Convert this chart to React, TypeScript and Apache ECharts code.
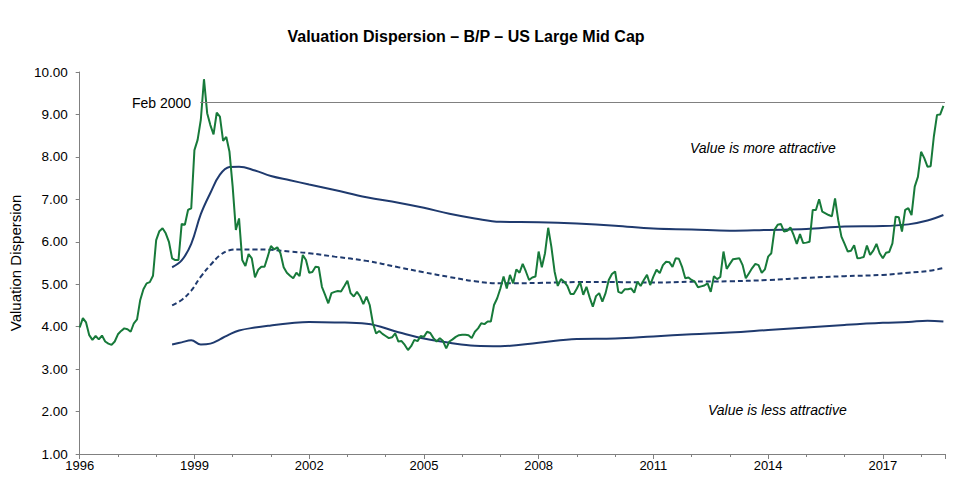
import React, { useEffect, useRef } from "react";
import * as echarts from "echarts";

// Months since Jan 1996 (index 0 = Jan 1996), monthly B/P valuation dispersion
const greenValues: number[] = [
  3.98, 4.2, 4.1, 3.8, 3.69, 3.78, 3.7, 3.79, 3.65, 3.6, 3.57, 3.65,
  3.82, 3.9, 3.96, 3.94, 3.88, 4.08, 4.17, 4.63, 4.88, 5.02, 5.05, 5.2,
  6.04, 6.25, 6.32, 6.2, 6.0, 5.61, 5.57, 5.57, 6.42, 6.4, 6.75, 6.79,
  8.16, 8.4, 8.87, 9.83, 9.03, 8.75, 8.53, 9.04, 8.95, 8.38, 8.47, 8.12,
  7.3, 6.28, 6.55, 5.57, 5.43, 5.71, 5.61, 5.16, 5.34, 5.41, 5.41, 5.65,
  5.9, 5.82, 5.87, 5.73, 5.4, 5.27, 5.2, 5.14, 5.27, 5.19, 5.69, 5.57,
  5.27, 5.29, 5.41, 5.4, 4.94, 4.75, 4.55, 4.79, 4.82, 4.84, 4.83, 4.95,
  5.08, 4.79, 4.71, 4.82, 4.71, 4.53, 4.71, 4.51, 4.08, 3.84, 3.9, 3.83,
  3.78, 3.73, 3.75, 3.84, 3.65, 3.66, 3.57, 3.45, 3.54, 3.69, 3.66, 3.78,
  3.76, 3.88, 3.85, 3.73, 3.65, 3.73, 3.66, 3.49, 3.65, 3.7, 3.76, 3.8,
  3.81, 3.81, 3.8, 3.73, 3.88, 3.96, 4.08, 4.06, 4.12, 4.12, 4.51, 4.67,
  4.9, 5.18, 4.9, 5.22, 5.02, 5.35, 5.27, 5.48, 5.3, 5.1, 5.16, 5.18,
  5.77, 5.4, 5.73, 6.33, 5.88, 5.3, 4.96, 5.12, 5.06, 4.96, 4.77, 4.77,
  4.9, 5.05, 4.75, 4.94, 4.69, 4.47, 4.72, 4.79, 4.59, 4.79, 5.1, 5.24,
  5.3, 4.82, 4.79, 4.88, 4.88, 4.9, 4.8, 5.06, 4.96, 5.1, 5.22, 4.98,
  5.18, 5.34, 5.26, 5.45, 5.53, 5.52, 5.41, 5.61, 5.6, 5.41, 5.14, 5.16,
  5.1, 5.06, 4.93, 4.95, 4.97, 5.02, 4.82, 5.19, 5.12, 5.17, 5.77, 5.36,
  5.48, 5.59, 5.6, 5.61, 5.45, 5.14, 5.26, 5.38, 5.48, 5.45, 5.27, 5.35,
  5.65, 5.73, 6.28, 6.4, 6.42, 6.24, 6.26, 6.34, 6.16, 5.95, 6.18, 5.97,
  5.98, 6.0, 6.75, 6.75, 7.0, 6.71, 6.67, 6.63, 6.6, 7.02, 6.51, 6.12,
  5.95, 5.77, 5.79, 5.92, 5.61, 5.62, 5.64, 5.91, 5.69, 5.79, 5.95, 5.73,
  5.61, 5.74, 5.76, 5.96, 6.59, 6.58, 6.24, 6.75, 6.79, 6.63, 7.3, 7.53,
  8.12, 7.97, 7.77, 7.78, 8.48, 8.99, 9.0, 9.2,
];

// Band series (months since Jan 1996)
const bandMonths: number[] = [
  29, 32, 35, 38, 41, 44, 47, 50, 55, 60, 66, 72, 80, 90, 100, 108, 116, 124,
  132, 144, 156, 168, 180, 192, 204, 216, 228, 240, 252, 260, 266, 271,
];
const upperBand: number[] = [
  5.4, 5.56, 5.95, 6.65, 7.15, 7.58, 7.76, 7.77, 7.68, 7.55, 7.45, 7.35, 7.22,
  7.05, 6.92, 6.8, 6.66, 6.55, 6.47, 6.46, 6.43, 6.38, 6.31, 6.29, 6.26, 6.28,
  6.3, 6.36, 6.37, 6.41, 6.5, 6.63,
];
const middleBand: number[] = [
  4.5, 4.63, 4.85, 5.18, 5.45, 5.68, 5.8, 5.82, 5.82, 5.81, 5.77, 5.73, 5.65,
  5.55, 5.4, 5.28, 5.17, 5.07, 5.02, 5.03, 5.05, 5.05, 5.04, 5.06, 5.07, 5.1,
  5.15, 5.19, 5.22, 5.27, 5.31, 5.38,
];
const lowerBand: number[] = [
  3.58, 3.63, 3.68, 3.58, 3.6, 3.7, 3.82, 3.91, 3.98, 4.03, 4.08, 4.11, 4.1,
  4.07, 3.87, 3.72, 3.62, 3.55, 3.54, 3.62, 3.71, 3.72, 3.77, 3.82, 3.86, 3.92,
  3.98, 4.04, 4.09, 4.11, 4.14, 4.12,
];

const startYear = 1996;
const xMaxMonth = 271.5;
const peakRefMonth = 37.8;
const peakRefValue = 9.28;
const peakRefLabel = "Feb 2000";
const titleText = "Valuation Dispersion – B/P – US Large Mid Cap";
const yAxisName = "Valuation Dispersion";
const moreText = "Value is more attractive";
const lessText = "Value is less attractive";

const GREEN = "#177a3a";
const NAVY = "#1f3a6e";
const FONT = "Liberation Sans, Arial, sans-serif";

export default function App() {
  const ref = useRef<HTMLDivElement>(null);
  useEffect(() => {
    document.body.style.margin = "0";
    if (!ref.current) return;
    const chart = echarts.init(ref.current, undefined, { renderer: "svg" });
    const band = (vals: number[]) => bandMonths.map((m, i) => [m, vals[i]]);
    chart.setOption({
      animation: false,
      backgroundColor: "#ffffff",
      textStyle: { fontFamily: FONT },
      title: {
        text: titleText,
        left: 461,
        top: 23,
        textAlign: "center",
        textStyle: { fontSize: 16, fontWeight: "bold", color: "#000", fontFamily: FONT },
      },
      grid: { left: 78, right: 26, top: 72, bottom: 23, containLabel: false },
      xAxis: {
        type: "value",
        min: 0,
        max: xMaxMonth,
        interval: 36,
        splitLine: { show: false },
        axisLine: { show: true, lineStyle: { color: "#808080", width: 1 } },
        axisTick: { show: true, length: 5, lineStyle: { color: "#808080" } },
        minorTick: { show: true, splitNumber: 3, length: 3, lineStyle: { color: "#808080" } },
        axisLabel: {
          fontSize: 13,
          color: "#000",
          margin: 5,
          fontFamily: FONT,
          formatter: (v: number) => (v % 36 === 0 ? String(startYear + v / 12) : ""),
        },
      },
      yAxis: {
        type: "value",
        min: 1,
        max: 10,
        interval: 1,
        name: yAxisName,
        nameLocation: "middle",
        nameGap: 53,
        nameTextStyle: { fontSize: 15, color: "#000", fontFamily: FONT },
        splitLine: { show: false },
        axisLine: { show: true, lineStyle: { color: "#808080", width: 1 } },
        axisTick: { show: true, length: 4, lineStyle: { color: "#808080" } },
        axisLabel: {
          fontSize: 13.5,
          color: "#000",
          margin: 12,
          fontFamily: FONT,
          formatter: (v: number) => v.toFixed(2),
        },
      },
      series: [
        {
          type: "line",
          data: band(upperBand),
          smooth: 0.4,
          symbol: "none",
          lineStyle: { color: NAVY, width: 2 },
          z: 2,
        },
        {
          type: "line",
          data: band(middleBand),
          smooth: 0.4,
          symbol: "none",
          lineStyle: { color: NAVY, width: 2, type: [5, 3] },
          z: 2,
        },
        {
          type: "line",
          data: band(lowerBand),
          smooth: 0.4,
          symbol: "none",
          lineStyle: { color: NAVY, width: 2 },
          z: 2,
        },
        {
          type: "line",
          data: greenValues.map((v, i) => [i, v]),
          symbol: "none",
          lineStyle: { color: GREEN, width: 2 },
          z: 3,
          markLine: {
            silent: true,
            symbol: ["none", "none"],
            lineStyle: { color: "#808080", width: 1, type: "solid" },
            label: {
              show: true,
              position: "start",
              formatter: peakRefLabel,
              fontSize: 14,
              color: "#000",
              fontFamily: FONT,
              distance: 9,
            },
            data: [
              [
                { coord: [peakRefMonth, peakRefValue] },
                { coord: [xMaxMonth, peakRefValue] },
              ],
            ],
          },
        },
      ],
      graphic: [
        {
          type: "text",
          left: 690,
          top: 141,
          style: { text: moreText, font: `italic 14px ${FONT}`, fill: "#000" },
        },
        {
          type: "text",
          left: 708,
          top: 403,
          style: { text: lessText, font: `italic 14px ${FONT}`, fill: "#000" },
        },
      ],
    });
    return () => chart.dispose();
  }, []);
  return <div ref={ref} style={{ width: 971, height: 477 }} />;
}
